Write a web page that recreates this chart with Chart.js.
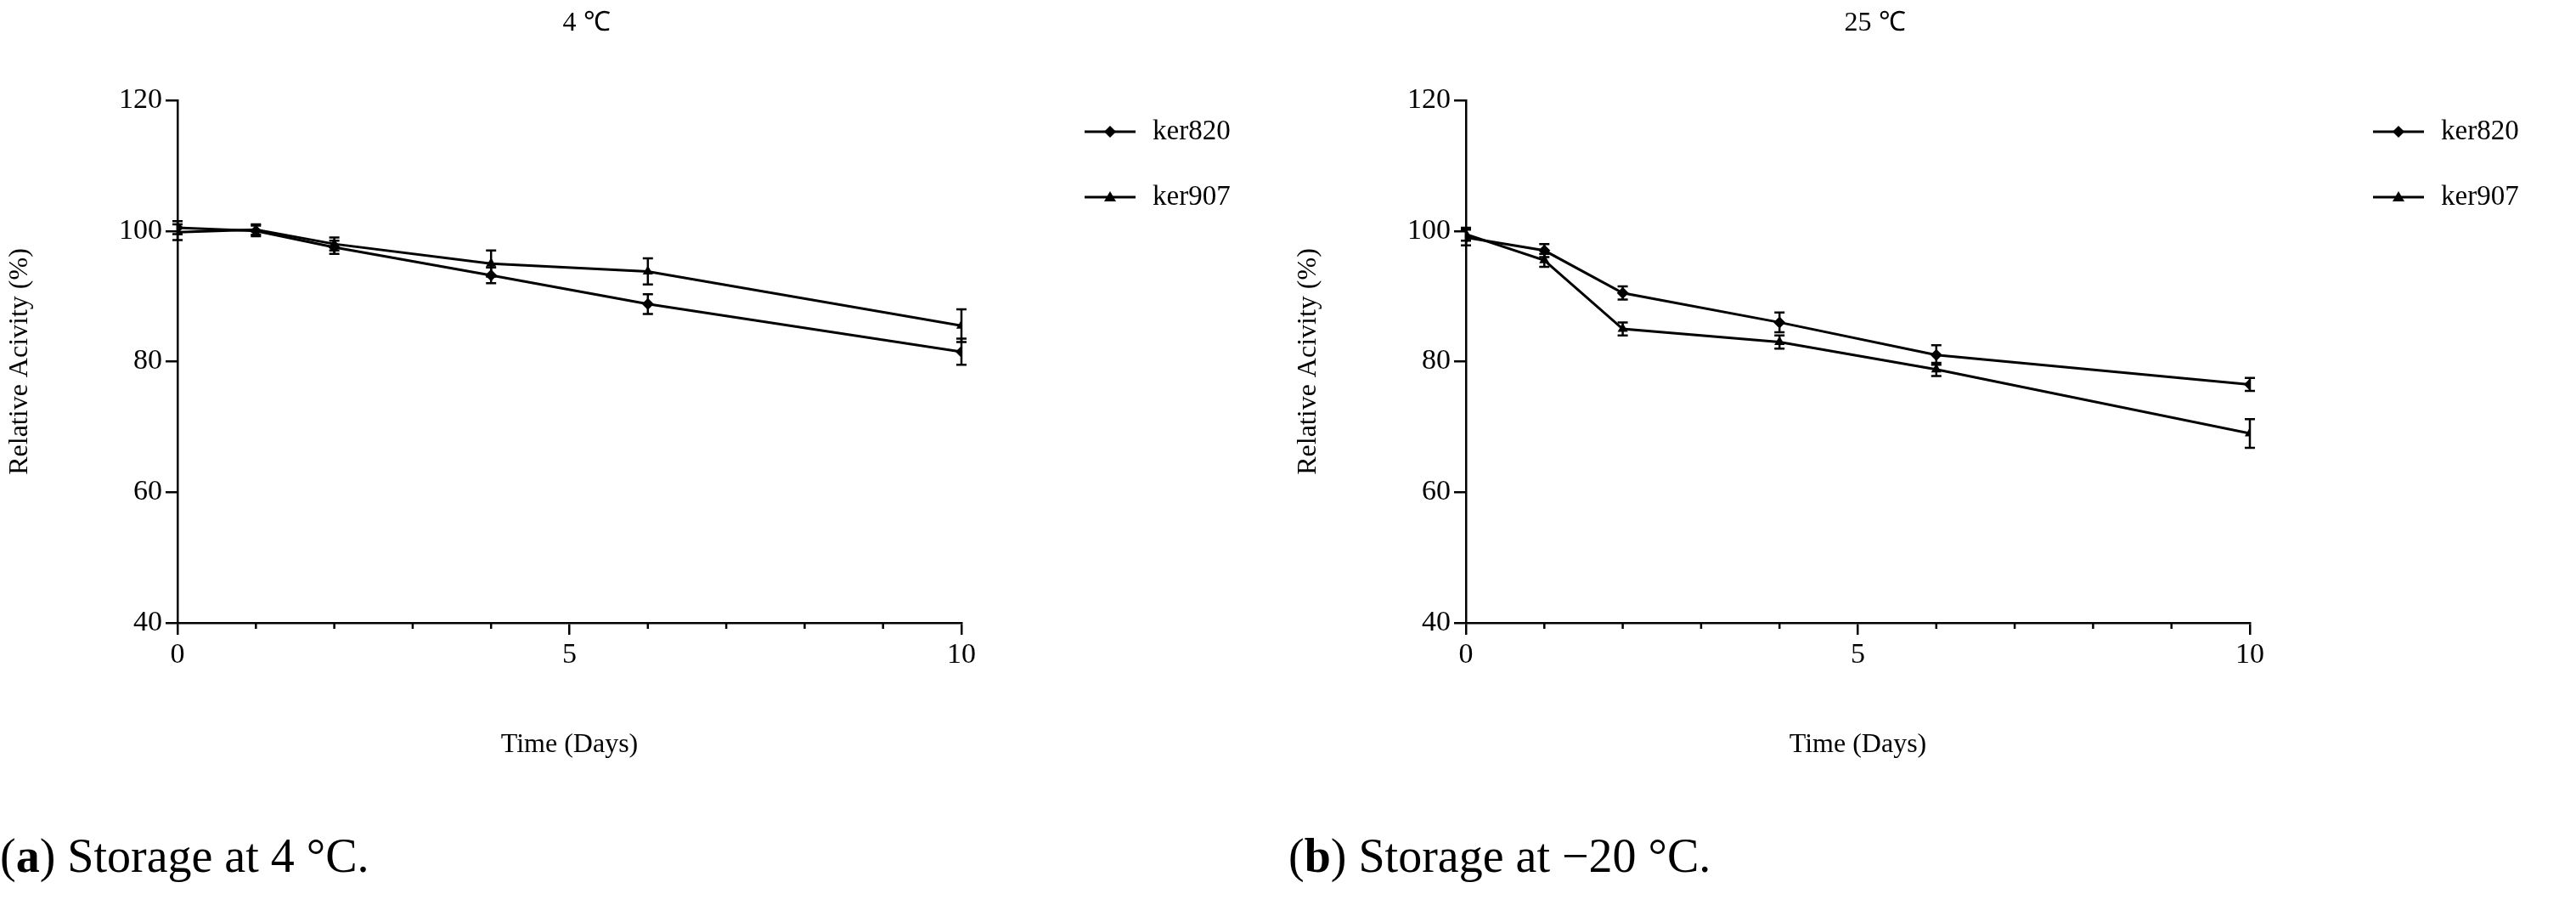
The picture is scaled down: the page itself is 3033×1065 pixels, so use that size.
<!DOCTYPE html>
<html><head><meta charset="utf-8">
<script src="https://cdn.jsdelivr.net/npm/chart.js@4"></script>
<style>
body{margin:0;background:#fff;width:3033px;height:1065px;position:relative;overflow:hidden;font-family:"Liberation Serif",serif}
canvas{position:absolute;top:0}
.cap{position:absolute;top:975px;font-size:56px;color:#000}
</style></head><body>
<canvas id="c1" style="left:0" width="1500" height="900"></canvas>
<canvas id="c2" style="left:1517px" width="1500" height="900"></canvas>
<div class="cap" style="left:0">(<b>a</b>) Storage at 4 °C.</div>
<div class="cap" style="left:1517px">(<b>b</b>) Storage at −20 °C.</div>
<script>
const days = [0, 1, 2, 4, 6, 10];
const seriesNames = ['ker820', 'ker907'];
const ker820_4 = [100.5, 100, 97.5, 93.2, 88.8, 81.5];
const ker820_4err = [1, 0.8, 1, 1.2, 1.5, 2];
const ker907_4 = [99.8, 100.2, 98, 95, 93.8, 85.5];
const ker907_4err = [1.2, 0.8, 1, 2, 2, 2.5];
const ker820_25 = [99, 97, 90.5, 86, 81, 76.5];
const ker820_25err = [1.2, 1, 1, 1.5, 1.5, 1];
const ker907_25 = [99.5, 95.5, 85, 83, 78.8, 69];
const ker907_25err = [1, 1, 1, 1, 1, 2.2];

const serif = '"Liberation Serif", serif';

const extras = {
  id: 'extras',
  afterDatasetsDraw(chart, args, opts) {
    const { ctx, scales: { x, y }, chartArea } = chart;
    ctx.save();
    ctx.strokeStyle = '#000'; ctx.fillStyle = '#000'; ctx.lineWidth = 2.5;
    // error bars
    chart.data.datasets.forEach(ds => {
      ds.data.forEach((p, i) => {
        const e = ds.err[i], px = x.getPixelForValue(p.x);
        const t = y.getPixelForValue(p.y + e), b = y.getPixelForValue(p.y - e);
        ctx.beginPath();
        ctx.moveTo(px, t); ctx.lineTo(px, b);
        ctx.moveTo(px - 6, t); ctx.lineTo(px + 6, t);
        ctx.moveTo(px - 6, b); ctx.lineTo(px + 6, b);
        ctx.stroke();
      });
    });
    // minor x ticks
    for (let v = 1; v < 10; v++) {
      if (v === 5) continue;
      const px = x.getPixelForValue(v);
      ctx.beginPath(); ctx.moveTo(px, chartArea.bottom); ctx.lineTo(px, chartArea.bottom + 7); ctx.stroke();
    }
    // title
    ctx.font = '32px ' + serif; ctx.textAlign = 'center'; ctx.textBaseline = 'top';
    ctx.fillText(opts.title, (chartArea.left + chartArea.right) / 2 + 20, 12);
    // legend
    ctx.textAlign = 'left'; ctx.textBaseline = 'middle'; ctx.font = '33px ' + serif;
    chart.data.datasets.forEach((ds, i) => {
      const ly = 155 + i * 77, lx = chartArea.right + 145;
      ctx.lineWidth = 3;
      ctx.beginPath(); ctx.moveTo(lx, ly); ctx.lineTo(lx + 60, ly); ctx.stroke();
      ctx.beginPath();
      if (ds.pointStyle === 'rectRot') {
        ctx.moveTo(lx + 30, ly - 7); ctx.lineTo(lx + 37, ly); ctx.lineTo(lx + 30, ly + 7); ctx.lineTo(lx + 23, ly);
      } else {
        ctx.moveTo(lx + 30, ly - 7); ctx.lineTo(lx + 37, ly + 5); ctx.lineTo(lx + 23, ly + 5);
      }
      ctx.closePath(); ctx.fill();
      ctx.fillText(seriesNames[i], lx + 80, ly);
    });
    ctx.restore();
  }
};

function makeChart(id, title, a, aErr, b, bErr) {
  const mk = (vals, err, style, name) => ({
    label: name,
    data: days.map((d, i) => ({ x: d, y: vals[i] })),
    err,
    borderColor: '#000', backgroundColor: '#000', borderWidth: 3,
    pointStyle: style, pointRadius: 7, pointBorderWidth: 0
  });
  new Chart(document.getElementById(id), {
    type: 'line',
    data: { datasets: [mk(a, aErr, 'rectRot', seriesNames[0]), mk(b, bErr, 'triangle', seriesNames[1])] },
    plugins: [extras],
    options: {
      responsive: false, animation: false,
      layout: { padding: { top: 118, right: 368, left: 0, bottom: 0 } },
      plugins: { legend: { display: false }, tooltip: { enabled: false }, extras: { title } },
      scales: {
        x: {
          type: 'linear', min: 0, max: 10,
          ticks: { stepSize: 5, color: '#000', font: { family: serif, size: 34 }, padding: 4 },
          grid: { drawOnChartArea: false, tickLength: 14, color: '#000', lineWidth: 2.5 },
          border: { color: '#000', width: 2.5 },
          title: { display: true, text: 'Time (Days)', color: '#000', font: { family: serif, size: 32 } },
          afterFit: s => { s.height = 900 - 733; }
        },
        y: {
          min: 40, max: 120,
          ticks: { stepSize: 20, color: '#000', font: { family: serif, size: 34 }, padding: 4 },
          grid: { drawOnChartArea: false, tickLength: 14, color: '#000', lineWidth: 2.5 },
          border: { color: '#000', width: 2.5 },
          title: { display: true, text: 'Relative Acivity (%)', color: '#000', font: { family: serif, size: 32 } },
          afterFit: s => { s.width = 209; }
        }
      }
    }
  });
}
makeChart('c1', '4 ℃', ker820_4, ker820_4err, ker907_4, ker907_4err);
makeChart('c2', '25 ℃', ker820_25, ker820_25err, ker907_25, ker907_25err);
</script></body></html>
